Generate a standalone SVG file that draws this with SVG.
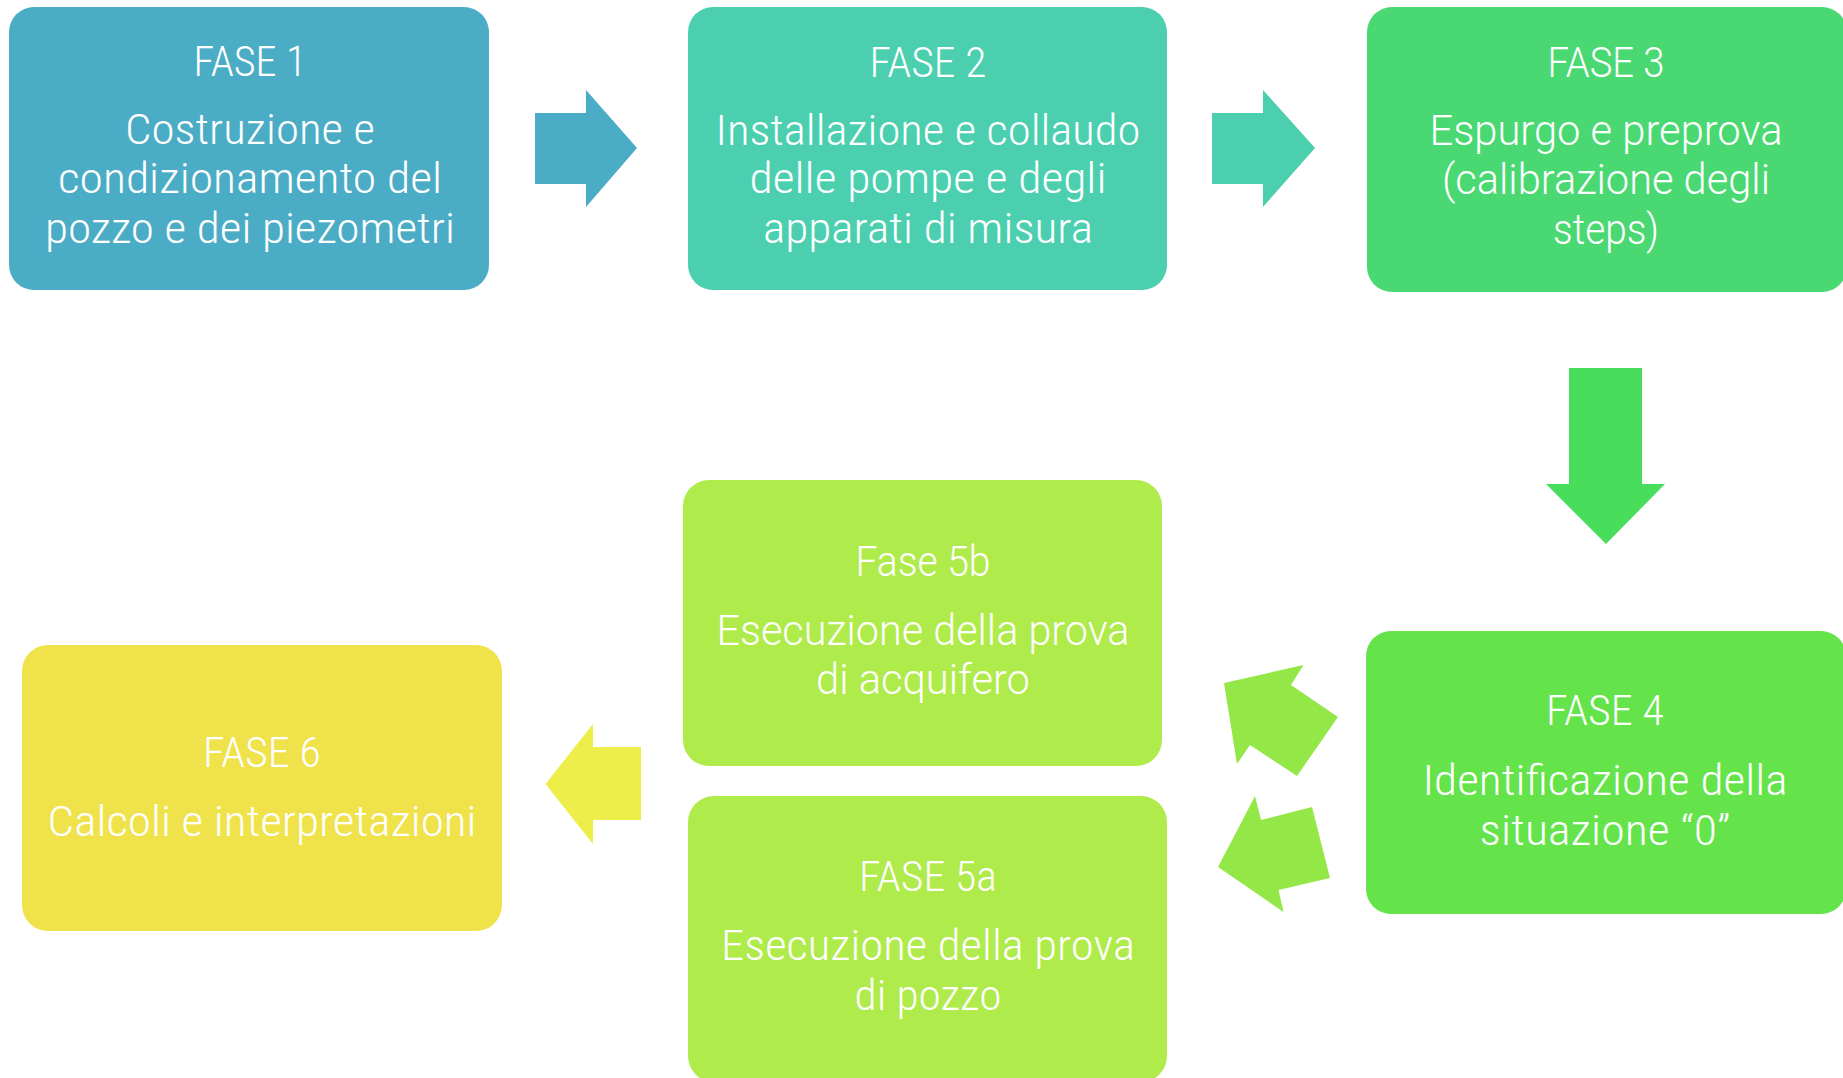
<svg xmlns="http://www.w3.org/2000/svg" width="1843" height="1078" viewBox="0 0 1843 1078">
<style>
.t{font-family:"Roboto Condensed",Roboto,"Liberation Sans",sans-serif;font-weight:300;font-size:42px;fill:#FFFFFF;text-anchor:middle}
.w{font-family:Roboto,"Liberation Sans",sans-serif;font-weight:300;font-size:42px;fill:#FFFFFF;text-anchor:middle}
</style>
<rect width="1843" height="1078" fill="#FFFFFF"/>
<g id="connectors">
<polygon id="a12" points="535,113 586,113 586,90 637,148 586,207 586,184 535,184" fill="#4BACC6"/>
<polygon id="a23" points="1212,113 1263,113 1263,90 1315,148 1263,207 1263,184 1212,184" fill="#4BCFAE"/>
<polygon id="a34" points="1569,368 1642,368 1642,484 1665,484 1606,544 1546,484 1569,484" fill="#48DD5A"/>
<polygon id="a45b" points="1224,683 1303.5,665 1291,685 1338,717 1297,776 1250,745 1237,764" fill="#93E847"/>
<polygon id="a45a" points="1255,796 1261,820 1312,807 1330,878 1278.5,890 1283.6,912 1218,867" fill="#93E847"/>
<polygon id="a56" points="641,747 593,747 593,724 545.5,784 593,844 593,820 641,820" fill="#EDEE4A"/>
</g>
<g id="fase1">
<rect x="9" y="7" width="480" height="283" rx="25" fill="#4BACC6"/>
<text class="t" x="250" y="76" textLength="113" lengthAdjust="spacingAndGlyphs">FASE 1</text>
<text class="t" x="250" y="144" textLength="250" lengthAdjust="spacingAndGlyphs">Costruzione e</text>
<text class="t" x="250" y="193" textLength="384" lengthAdjust="spacingAndGlyphs">condizionamento del</text>
<text class="t" x="250" y="243" textLength="410" lengthAdjust="spacingAndGlyphs">pozzo e dei piezometri</text>
</g>
<g id="fase2">
<rect x="688" y="7" width="479" height="283" rx="25" fill="#4BCFAF"/>
<text class="t" x="928" y="77" textLength="117" lengthAdjust="spacingAndGlyphs">FASE 2</text>
<text class="t" x="928" y="145" textLength="425" lengthAdjust="spacingAndGlyphs">Installazione e collaudo</text>
<text class="t" x="928" y="193" textLength="357" lengthAdjust="spacingAndGlyphs">delle pompe e degli</text>
<text class="t" x="928" y="243" textLength="330" lengthAdjust="spacingAndGlyphs">apparati di misura</text>
</g>
<g id="fase3">
<rect x="1367" y="7" width="480" height="285" rx="25" fill="#4AD873"/>
<text class="w" x="1606" y="77" textLength="117" lengthAdjust="spacingAndGlyphs">FASE 3</text>
<text class="w" x="1606" y="145" textLength="353" lengthAdjust="spacingAndGlyphs">Espurgo e preprova</text>
<text class="w" x="1606" y="194" textLength="328" lengthAdjust="spacingAndGlyphs">(calibrazione degli</text>
<text class="w" x="1606" y="244" textLength="106" lengthAdjust="spacingAndGlyphs">steps)</text>
</g>
<g id="fase4">
<rect x="1366" y="631" width="480" height="283" rx="25" fill="#64E34B"/>
<text class="t" x="1605" y="725" textLength="118" lengthAdjust="spacingAndGlyphs">FASE 4</text>
<text class="t" x="1605" y="795" textLength="365" lengthAdjust="spacingAndGlyphs">Identificazione della</text>
<text class="t" x="1605" y="845" textLength="251" lengthAdjust="spacingAndGlyphs">situazione “0”</text>
</g>
<g id="fase5b">
<rect x="683" y="480" width="479" height="286" rx="26" fill="#AFEB4A"/>
<text class="w" x="923" y="576" textLength="135" lengthAdjust="spacingAndGlyphs">Fase 5b</text>
<text class="w" x="923" y="645" textLength="413" lengthAdjust="spacingAndGlyphs">Esecuzione della prova</text>
<text class="w" x="923" y="694" textLength="214" lengthAdjust="spacingAndGlyphs">di acquifero</text>
</g>
<g id="fase5a">
<rect x="688" y="796" width="479" height="286" rx="26" fill="#AFEB4A"/>
<text class="t" x="928" y="891" textLength="138" lengthAdjust="spacingAndGlyphs">FASE 5a</text>
<text class="t" x="928" y="960" textLength="414" lengthAdjust="spacingAndGlyphs">Esecuzione della prova</text>
<text class="t" x="928" y="1010" textLength="147" lengthAdjust="spacingAndGlyphs">di pozzo</text>
</g>
<g id="fase6">
<rect x="22" y="645" width="480" height="286" rx="26" fill="#EFE24A"/>
<text class="t" x="262" y="767" textLength="118" lengthAdjust="spacingAndGlyphs">FASE 6</text>
<text class="t" x="262" y="836" textLength="429" lengthAdjust="spacingAndGlyphs">Calcoli e interpretazioni</text>
</g>
</svg>
